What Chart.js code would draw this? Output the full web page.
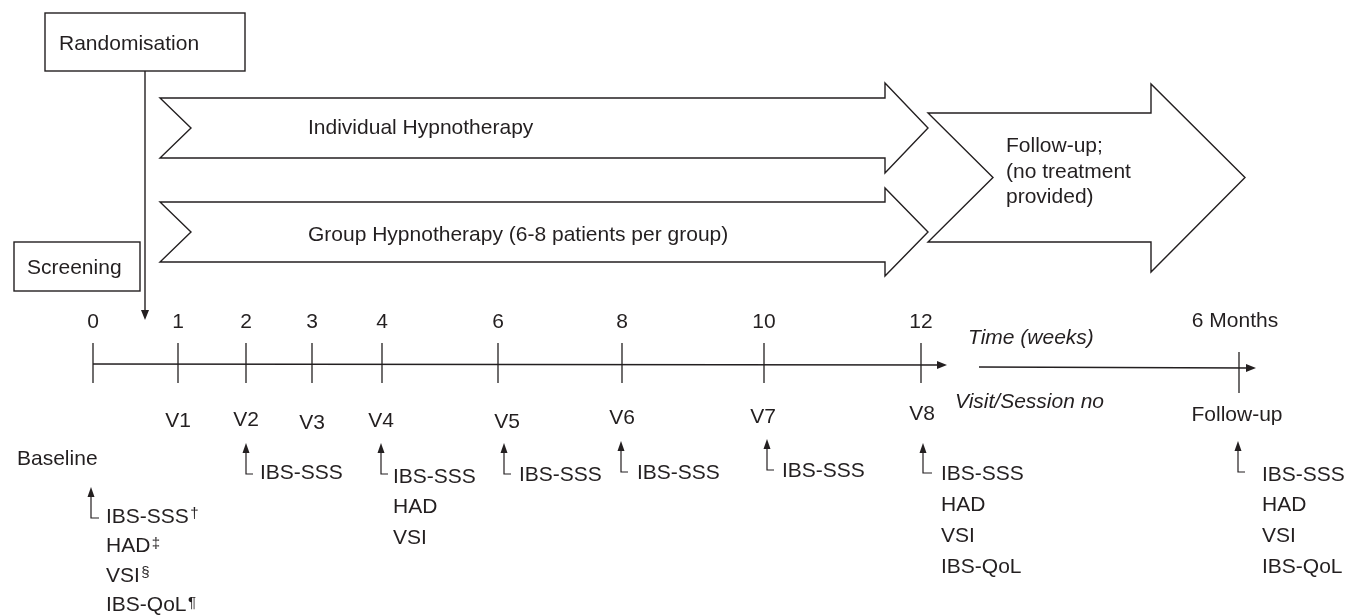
<!DOCTYPE html>
<html><head><meta charset="utf-8">
<script src="https://cdn.jsdelivr.net/npm/chart.js@4.4.1/dist/chart.umd.min.js"></script>
<style>html,body{margin:0;padding:0;background:#fff;overflow:hidden}#wrap{width:1357px;height:616px}</style>
</head><body><div id="wrap"><canvas id="c" width="1357" height="616"></canvas></div>
<script>
// ---------- content (data) ----------
const weekLabels = ['0', '1', '2', '3', '4', '6', '8', '10', '12'];
const visitLabels = ['V1', 'V2', 'V3', 'V4', 'V5', 'V6', 'V7', 'V8'];
const followUpTickLabel = '6 Months';
const followUpVisitLabel = 'Follow-up';
const axisTitleTop = 'Time (weeks)';
const axisTitleBottom = 'Visit/Session no';
const boxLabels = ['Randomisation', 'Screening'];
const armLabels = ['Individual Hypnotherapy', 'Group Hypnotherapy (6-8 patients per group)'];
const followUpPhaseLines = ['Follow-up;', '(no treatment', 'provided)'];
const baselineLabel = 'Baseline';
const assessmentPoints = ['Baseline', 'V2', 'V4', 'V5', 'V6', 'V7', 'V8', 'Follow-up'];
const assessmentItems = [
  [['IBS-SSS', '†'], ['HAD', '‡'], ['VSI', '§'], ['IBS-QoL', '¶']],
  [['IBS-SSS']],
  [['IBS-SSS'], ['HAD'], ['VSI']],
  [['IBS-SSS']],
  [['IBS-SSS']],
  [['IBS-SSS']],
  [['IBS-SSS'], ['HAD'], ['VSI'], ['IBS-QoL']],
  [['IBS-SSS'], ['HAD'], ['VSI'], ['IBS-QoL']]
];

// ---------- layout (positions in scale units) ----------
const weekX = [93, 178, 246, 312, 382, 498, 622, 764, 921];
const weekLabelY = 322;
const tickCenterY = 363;
const visitX = [178, 246, 312, 381, 507, 622, 763, 922];
const visitY = [421, 420, 423, 421, 422, 418, 417, 414];
const assessLayout = [
  {ax: 91,  tip: 487, corner: 518, hend: 99,  tx: 106, ty: 517, dy: 29.5},
  {ax: 246, tip: 443, corner: 474, hend: 253, tx: 260, ty: 473, dy: 30},
  {ax: 381, tip: 443, corner: 474, hend: 388, tx: 393, ty: 477, dy: 30.5},
  {ax: 504, tip: 443, corner: 474, hend: 511, tx: 519, ty: 475, dy: 30},
  {ax: 621, tip: 441, corner: 472, hend: 628, tx: 637, ty: 473, dy: 30},
  {ax: 767, tip: 439, corner: 470, hend: 774, tx: 782, ty: 471, dy: 30},
  {ax: 923, tip: 443, corner: 473, hend: 932, tx: 941, ty: 474, dy: 31},
  {ax: 1238, tip: 441, corner: 472, hend: 1245, tx: 1262, ty: 475, dy: 30.7}
];

const INK = '#231f20';
const FONT = '"Liberation Sans", Arial, Helvetica, sans-serif';

const tickPoints = weekX.map(x => ({x: x, y: tickCenterY}));

const diagram = {
  id: 'diagram',
  afterDraw(chart) {
    const ctx = chart.ctx;
    const X = v => chart.scales.x.getPixelForValue(v);
    const Y = v => chart.scales.y.getPixelForValue(v);
    ctx.save();
    ctx.strokeStyle = INK; ctx.fillStyle = INK; ctx.lineWidth = 1.4;
    ctx.lineJoin = 'miter';

    const text = (s, x, y, align, italic, size) => {
      ctx.font = (italic ? 'italic ' : '') + (size || 21) + 'px ' + FONT;
      ctx.textAlign = align || 'left';
      ctx.textBaseline = 'middle';
      ctx.fillStyle = INK;
      ctx.fillText(s, X(x), Y(y));
      return ctx.measureText(s).width;
    };
    const headUp = (x, tipY) => {
      ctx.beginPath();
      ctx.moveTo(X(x), Y(tipY));
      ctx.lineTo(X(x) - 3.5, Y(tipY) + 10);
      ctx.lineTo(X(x) + 3.5, Y(tipY) + 10);
      ctx.closePath(); ctx.fill();
    };
    const headDown = (x, tipY) => {
      ctx.beginPath();
      ctx.moveTo(X(x), Y(tipY));
      ctx.lineTo(X(x) - 4, Y(tipY) - 10);
      ctx.lineTo(X(x) + 4, Y(tipY) - 10);
      ctx.closePath(); ctx.fill();
    };
    const headRight = (tipX, y) => {
      ctx.beginPath();
      ctx.moveTo(X(tipX), Y(y));
      ctx.lineTo(X(tipX) - 10, Y(y) - 4);
      ctx.lineTo(X(tipX) - 10, Y(y) + 4);
      ctx.closePath(); ctx.fill();
    };
    const blockArrow = (x0, top, bot, notchX, headX, headTop, headBot, tipX) => {
      const mid = (top + bot) / 2;
      ctx.beginPath();
      ctx.moveTo(X(x0), Y(top));
      ctx.lineTo(X(headX), Y(top));
      ctx.lineTo(X(headX), Y(headTop));
      ctx.lineTo(X(tipX), Y(mid));
      ctx.lineTo(X(headX), Y(headBot));
      ctx.lineTo(X(headX), Y(bot));
      ctx.lineTo(X(x0), Y(bot));
      ctx.lineTo(X(notchX), Y(mid));
      ctx.closePath();
      ctx.fillStyle = '#fff'; ctx.fill();
      ctx.strokeStyle = INK; ctx.stroke();
      ctx.fillStyle = INK;
    };

    // boxes
    ctx.strokeRect(X(45), Y(13), X(245) - X(45), Y(71) - Y(13));
    text(boxLabels[0], 59, 44.5);
    ctx.strokeRect(X(14), Y(242), X(140) - X(14), Y(291) - Y(242));
    text(boxLabels[1], 27, 268.5);

    // randomisation arrow
    ctx.beginPath(); ctx.moveTo(X(145), Y(71)); ctx.lineTo(X(145), Y(311)); ctx.stroke();
    headDown(145, 320);

    // block arrows
    blockArrow(160, 98, 158, 191, 885, 83, 173, 928);
    blockArrow(160, 202, 262, 191, 885, 188, 276, 928);
    blockArrow(928, 113, 242, 993, 1151, 84, 272, 1245);
    text(armLabels[0], 308, 128.5);
    text(armLabels[1], 308, 235.5);
    followUpPhaseLines.forEach((s, i) => text(s, 1006, 146.5 + i * 25.5));

    // timeline arrowheads
    headRight(947, 365);
    headRight(1256, 368);

    // week labels
    weekLabels.forEach((s, i) => text(s, weekX[i], weekLabelY, 'center'));
    text(followUpTickLabel, 1235, 321, 'center');
    text(axisTitleTop, 968, 338, 'left', true);
    text(axisTitleBottom, 955, 402, 'left', true);

    // visit labels
    visitLabels.forEach((s, i) => text(s, visitX[i], visitY[i], 'center'));
    text(followUpVisitLabel, 1237, 415, 'center');
    text(baselineLabel, 17, 459);

    // assessments
    assessmentPoints.forEach((p, k) => {
      const a = assessLayout[k];
      ctx.beginPath();
      ctx.moveTo(X(a.ax), Y(a.tip + 6));
      ctx.lineTo(X(a.ax), Y(a.corner));
      ctx.lineTo(X(a.hend), Y(a.corner));
      ctx.lineWidth = 1.2; ctx.stroke(); ctx.lineWidth = 1.4;
      headUp(a.ax, a.tip);
      assessmentItems[k].forEach((it, j) => {
        const y = a.ty + j * a.dy;
        const w = text(it[0], a.tx, y);
        if (it[1]) text(it[1], a.tx + w + 1.5, y - 3, 'left', false, 15);
      });
    });
    ctx.restore();
  }
};

new Chart(document.getElementById('c'), {
  type: 'scatter',
  data: {
    datasets: [
      {
        label: 'weeks', data: tickPoints,
        pointStyle: 'line', rotation: 90, pointRadius: 20,
        pointBorderColor: INK, pointBorderWidth: 1.3, pointBackgroundColor: INK
      },
      {
        label: 'follow-up tick', data: [{x: 1239, y: 372.5}],
        pointStyle: 'line', rotation: 90, pointRadius: 20.5,
        pointBorderColor: INK, pointBorderWidth: 1.3
      },
      {
        type: 'line', label: 'timeline', data: [{x: 93, y: 364}, {x: 940, y: 365}],
        borderColor: INK, borderWidth: 1.4, pointRadius: 0, showLine: true
      },
      {
        type: 'line', label: 'follow-up line', data: [{x: 979, y: 367}, {x: 1248, y: 368}],
        borderColor: INK, borderWidth: 1.4, pointRadius: 0, showLine: true
      }
    ]
  },
  options: {
    responsive: false,
    animation: false,
    events: [],
    layout: {padding: 0, autoPadding: false},
    plugins: {legend: {display: false}, tooltip: {enabled: false}, title: {display: false}},
    scales: {
      x: {type: 'linear', min: 0, max: 1357, display: false},
      y: {type: 'linear', min: 0, max: 616, reverse: true, display: false}
    }
  },
  plugins: [diagram]
});
</script>
</body></html>
